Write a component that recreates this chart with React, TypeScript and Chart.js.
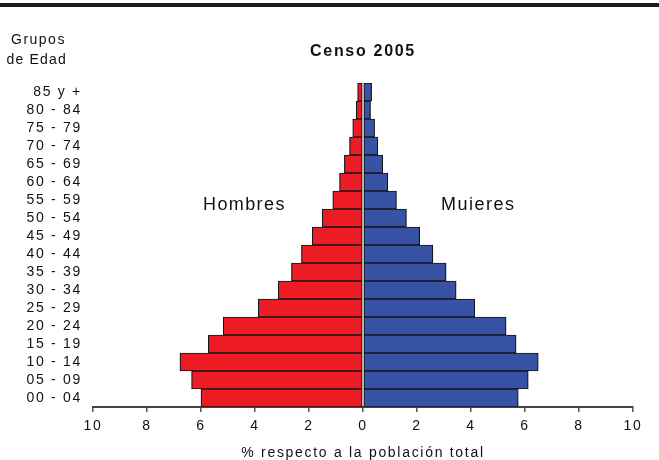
import React, { useEffect, useRef } from "react";
import { Chart, registerables } from "chart.js";

Chart.register(...registerables);

const ageGroups = [
  "85 y +", "80 - 84", "75 - 79", "70 - 74", "65 - 69", "60 - 64",
  "55 - 59", "50 - 54", "45 - 49", "40 - 44", "35 - 39", "30 - 34",
  "25 - 29", "20 - 24", "15 - 19", "10 - 14", "05 - 09", "00 - 04",
];
const hombres = [0.2, 0.25, 0.38, 0.5, 0.69, 0.87, 1.12, 1.51, 1.88, 2.28, 2.65, 3.14, 3.88, 5.18, 5.73, 6.78, 6.35, 6.0];
const mujeres = [0.32, 0.28, 0.43, 0.55, 0.73, 0.92, 1.24, 1.61, 2.1, 2.59, 3.08, 3.45, 4.14, 5.3, 5.67, 6.49, 6.12, 5.75];
const xMin = -10;
const xMax = 10;
const xStep = 2;

const FONT = "'Liberation Sans', Arial, sans-serif";

const spacingPlugin = {
  id: "letterSpacing",
  beforeDraw(chart: any) {
    (chart.ctx as any).letterSpacing = "1.7px";
  },
  afterDraw(chart: any) {
    (chart.ctx as any).letterSpacing = "0px";
  },
};

export default function App() {
  const ref = useRef<HTMLCanvasElement | null>(null);

  useEffect(() => {
    if (!ref.current) return;
    const chart = new Chart(ref.current, {
      type: "bar",
      data: {
        labels: ageGroups,
        datasets: [
          {
            label: "Hombres",
            data: hombres.map((v) => -v),
            backgroundColor: "#ED1C24",
            borderColor: "#151515",
            borderWidth: 1.2,
            borderSkipped: false,
            barPercentage: 1,
            categoryPercentage: 1,
          },
          {
            label: "Mujeres",
            data: mujeres,
            backgroundColor: "#3953A4",
            borderColor: "#151515",
            borderWidth: 1.2,
            borderSkipped: false,
            barPercentage: 1,
            categoryPercentage: 1,
          },
        ],
      },
      options: {
        indexAxis: "y",
        animation: false,
        responsive: false,
        devicePixelRatio: 1,
        layout: { padding: { left: 0, right: 26, top: 0, bottom: 0 } },
        plugins: {
          legend: { display: false },
          tooltip: { enabled: false },
          title: {
            display: true,
            text: "Censo 2005",
            fullSize: false,
            color: "#111",
            font: { family: FONT, size: 16, weight: "bold" },
            padding: { top: 42, bottom: 21.8 },
          },
        },
        scales: {
          x: {
            stacked: true,
            min: xMin,
            max: xMax,
            afterFit: (s: any) => {
              s.height = 53;
            },
            ticks: {
              stepSize: xStep,
              padding: 6,
              color: "#111",
              font: { family: FONT, size: 14 },
              callback: (v: any) => String(Math.abs(Number(v))),
            },
            grid: {
              display: true,
              drawOnChartArea: false,
              drawTicks: true,
              tickLength: 5,
              color: "#555",
              lineWidth: 1.5,
            },
            border: { display: true, color: "#444", width: 2 },
            title: {
              display: true,
              text: "% respecto a la población total",
              color: "#111",
              font: { family: FONT, size: 14 },
              padding: { top: 0, bottom: -2 },
            },
          },
          y: {
            stacked: true,
            afterFit: (s: any) => {
              s.width = 93;
            },
            ticks: {
              autoSkip: false,
              padding: 11,
              color: "#111",
              font: { family: FONT, size: 14 },
            },
            grid: { display: false, drawTicks: false },
            border: { display: false },
          },
        },
      },
      plugins: [spacingPlugin],
    } as any);
    return () => chart.destroy();
  }, []);

  const textStyle: React.CSSProperties = {
    position: "absolute",
    fontFamily: FONT,
    color: "#111",
    whiteSpace: "nowrap",
    lineHeight: 1.15,
  };

  return (
    <div style={{ position: "absolute", left: 0, top: 0, width: 659, height: 460, background: "#fff", overflow: "hidden" }}>
      <div style={{ position: "absolute", left: 0, top: 3, width: 659, height: 4, background: "#1a1a1a" }} />
      <canvas ref={ref} width={659} height={460} style={{ position: "absolute", left: 0, top: 0, width: 659, height: 460, display: "block" }} />
      <div style={{ ...textStyle, left: 11, top: 30.5, fontSize: 14, letterSpacing: "1.5px" }}>Grupos</div>
      <div style={{ ...textStyle, left: 6.5, top: 50.5, fontSize: 14, letterSpacing: "1.2px" }}>de Edad</div>
      <div style={{ ...textStyle, left: 203, top: 194, fontSize: 18, letterSpacing: "1.4px" }}>Hombres</div>
      <div style={{ ...textStyle, left: 441, top: 194, fontSize: 18, letterSpacing: "1.5px" }}>Muieres</div>
    </div>
  );
}
